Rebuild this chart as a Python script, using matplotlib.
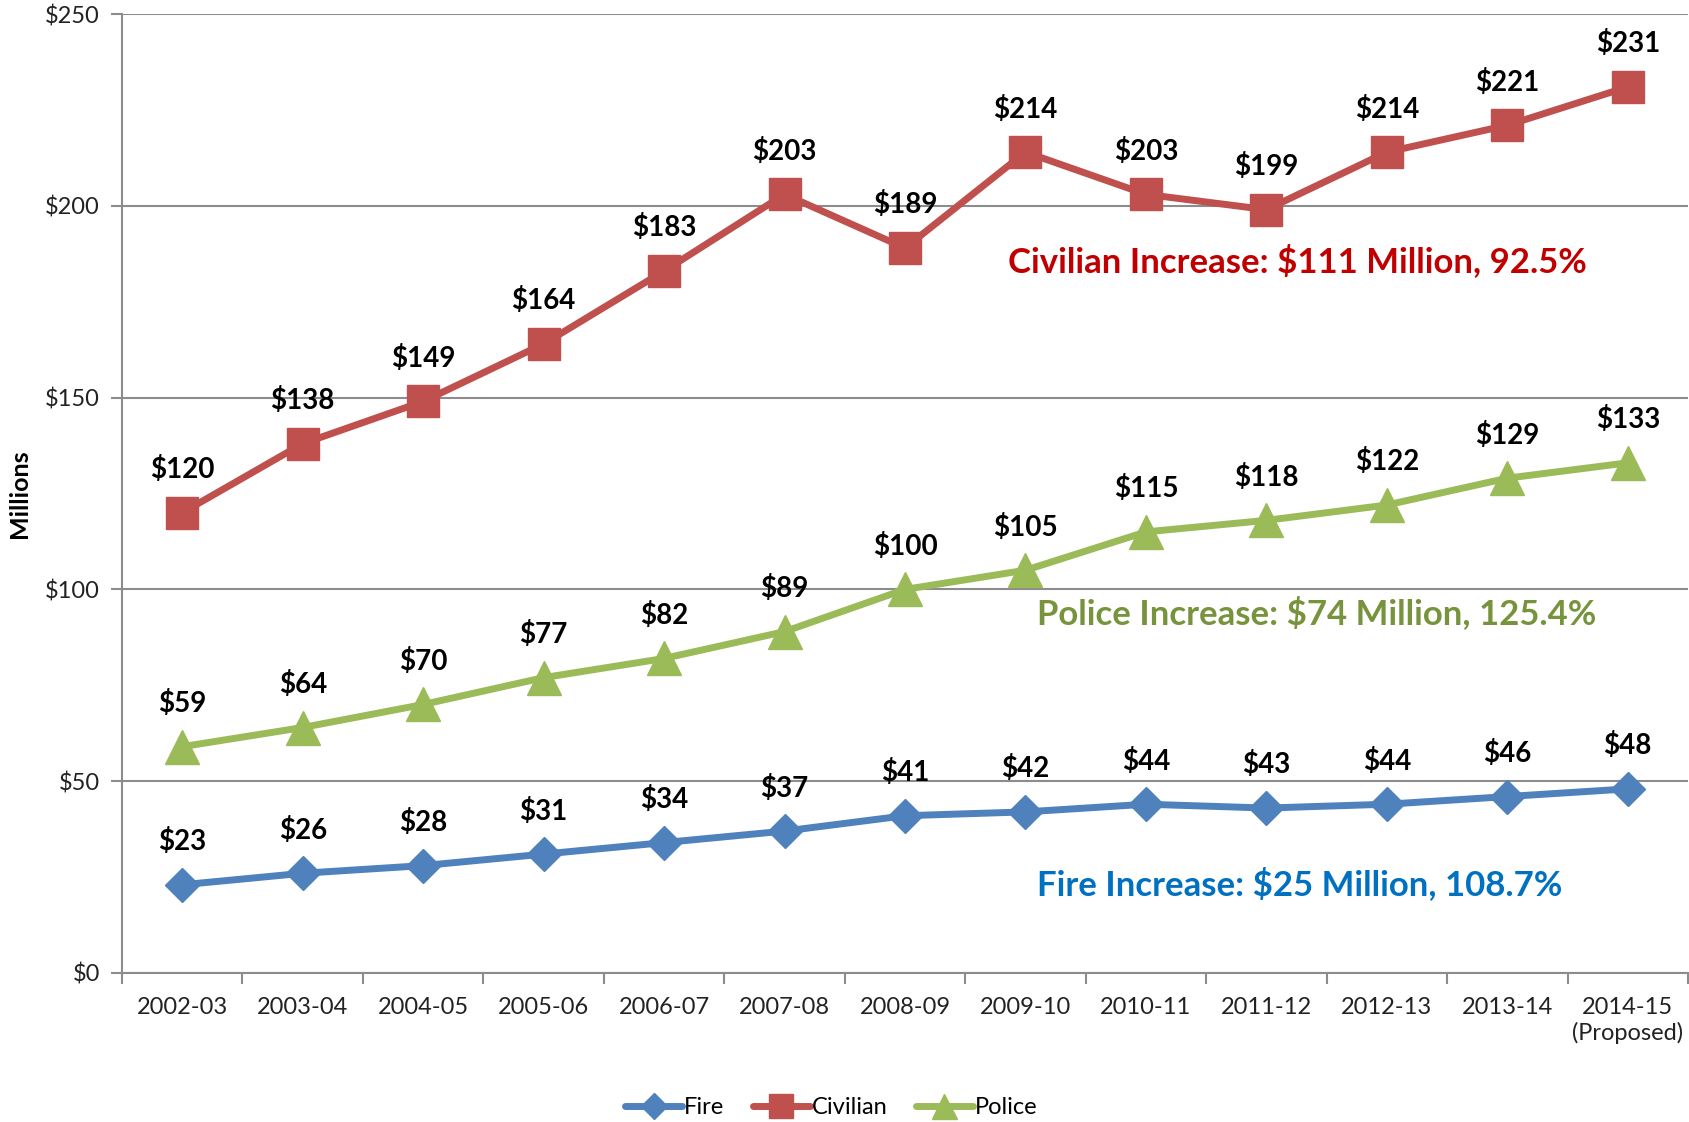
import numpy as np
import matplotlib.pyplot as plt

years = ["2002-03", "2003-04", "2004-05", "2005-06", "2006-07", "2007-08", "2008-09",
         "2009-10", "2010-11", "2011-12", "2012-13", "2013-14", "2014-15\n(Proposed)"]
fire = [23, 26, 28, 31, 34, 37, 41, 42, 44, 43, 44, 46, 48]
civilian = [120, 138, 149, 164, 183, 203, 189, 214, 203, 199, 214, 221, 231]
police = [59, 64, 70, 77, 82, 89, 100, 105, 115, 118, 122, 129, 133]

yticks = [0, 50, 100, 150, 200, 250]

notes = [
    ("Civilian Increase: $111 Million, 92.5%", 9.26, 185.6, "#C00000"),
    ("Police Increase: $74 Million, 125.4%", 9.42, 93.8, "#77933C"),
    ("Fire Increase: $25 Million, 108.7%", 9.28, 23.2, "#0070C0"),
]

plt.rcParams['font.family'] = ['Lato', 'DejaVu Sans']

fig = plt.figure(figsize=(16.9, 11.22), dpi=100)
ax = fig.add_axes([0.0722, 0.1328, 0.9266, 0.8547])

x = np.arange(len(years))
series = [
    ("Fire", fire, "#4F81BD", "D", 17),
    ("Civilian", civilian, "#C0504D", "s", 23),
    ("Police", police, "#9BBB59", "^", 24),
]
for name, vals, col, mk, ms in series:
    ax.plot(x, vals, color=col, lw=5, marker=mk, markersize=ms, label=name,
            solid_capstyle='round', zorder=3)
    for xi, v in zip(x, vals):
        ax.annotate(f"${v}", (xi, v), xytext=(0, 31), textcoords='offset points',
                    ha='center', va='center', fontsize=20, fontweight='bold',
                    color='black', zorder=4)

for txt, tx, ty, col in notes:
    ax.text(tx, ty, txt, ha='center', va='center', fontsize=25, fontweight='bold',
            color=col)

ax.set_xlim(-0.5, len(years) - 0.5)
ax.set_ylim(0, 250)
ax.set_yticks(yticks)
ax.set_yticklabels([f"${v}" for v in yticks], fontsize=17, color='#222222')
ax.yaxis.grid(True, color='#8c8c8c', lw=1.5)
ax.set_axisbelow(True)

ax.set_xticks(np.arange(-0.5, len(years)), minor=False)
ax.set_xticklabels([])
ax.set_xticks(x, minor=True)
ax.set_xticklabels(years, minor=True, fontsize=17, color='#222222', va='top',
                   linespacing=1.25)
ax.tick_params(axis='x', which='major', length=8, width=1.5, color='#8c8c8c', direction='out')
ax.tick_params(axis='x', which='minor', length=0, pad=17)
ax.tick_params(axis='y', length=8, width=1.5, color='#8c8c8c', pad=8)

for s in ['top', 'right']:
    ax.spines[s].set_visible(False)
for s in ['left', 'bottom']:
    ax.spines[s].set_color('#8c8c8c')
    ax.spines[s].set_linewidth(1.5)

ax.set_ylabel("Millions", fontsize=18, fontweight='bold')
ax.yaxis.set_label_coords(-0.058, 0.5)

fig.legend(loc='center', bbox_to_anchor=(0.492, 0.0125), ncol=3, frameon=False,
           fontsize=17, handlelength=2.4, columnspacing=1.2, handletextpad=0.1,
           markerscale=0.75)

fig.savefig("out.png", dpi=100)
